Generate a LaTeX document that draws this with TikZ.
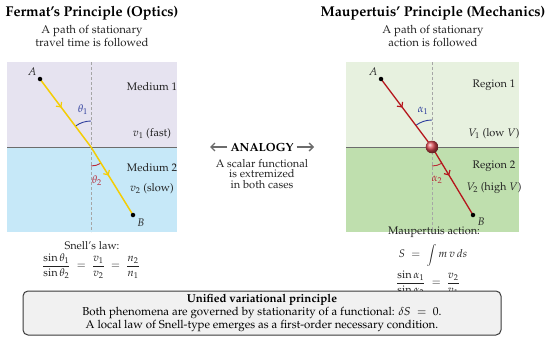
\documentclass[tikz,border=0pt]{standalone}
\usepackage[T1]{fontenc}
\usepackage{mathpazo}
\usetikzlibrary{arrows.meta,decorations.markings}
\definecolor{lavfill}{HTML}{E6E3F0}
\definecolor{bluefill}{HTML}{C6E8F8}
\definecolor{lgreenfill}{HTML}{E7F1DF}
\definecolor{greenfill}{HTML}{BFDFAE}
\definecolor{raygold}{HTML}{F4CD06}
\definecolor{rayred}{HTML}{B5161C}
\definecolor{angblue}{HTML}{2C3C9C}
\definecolor{angred}{HTML}{B82A38}
\definecolor{ballred}{HTML}{D8474E}
\definecolor{boxfill}{HTML}{F1F1F1}
\definecolor{boxline}{HTML}{3A3A3A}
\definecolor{txtgray}{HTML}{222222}
\begin{document}
\begin{tikzpicture}[x=1pt,y=-1pt,
  txt/.style={inner sep=0pt,text=txtgray,font=\fontsize{11}{13}\selectfont},
  titletxt/.style={inner sep=0pt,text=black,font=\fontsize{14.2}{16}\selectfont\bfseries},
  sub/.style={txt,align=center,font=\fontsize{11.4}{13}\selectfont},
  dot/.style={circle,fill=black,inner sep=0pt,minimum size=4.5pt},
  interface/.style={draw=gray!85!black,line width=0.9pt},
  normalline/.style={draw=gray!70,line width=0.6pt,dash pattern=on 3pt off 2pt},
  raygoldstyle/.style={draw=raygold,line width=1.5pt},
  rayredstyle/.style={draw=rayred,line width=1.3pt},
  midarrow/.style={postaction={decorate},decoration={markings,
      mark=at position 0.42 with {\arrow{Straight Barb[length=3.5pt,width=7pt,line width=1.2pt]}}}},
  arcblue/.style={draw=angblue,line width=0.9pt},
  arcred/.style={draw=angred,line width=0.9pt},
  grayarrow/.style={draw=gray!85!black,line width=1.3pt,-{Straight Barb[length=4pt,width=8pt,line width=1.3pt]}},
  summarybox/.style={draw=boxline,line width=1pt,fill=boxfill,rounded corners=5pt}
]
\useasboundingbox (0,0) rectangle (550,340);

% ---------------- Titles ----------------
\node[titletxt] (t1) at (92,13) {Fermat's Principle (Optics)};
\node[sub] (s1) at (92,35.5) {A path of stationary\\travel time is followed};
\node[titletxt] (t2) at (433,13) {Maupertuis' Principle (Mechanics)};
\node[sub] (s2) at (433,35.5) {A path of stationary\\action is followed};

% ---------------- Left panel ----------------
\fill[lavfill] (7,62) rectangle (177,147);
\fill[bluefill] (7,147) rectangle (177,232);
\draw[normalline] (91,62) -- (91,232);
\draw[interface] (7,147) -- (177,147);

\coordinate (I1) at (91,147);
\coordinate (A1) at (40,79);
\coordinate (B1) at (133,215);
\draw[arcblue] ([shift={(-90:26)}]I1) arc[start angle=-90,end angle=-127,radius=26];
\draw[arcred] ([shift={(90:19)}]I1) arc[start angle=90,end angle=58.5,radius=19];
\draw[raygoldstyle,midarrow] (A1) -- (I1);
\draw[raygoldstyle,midarrow] (I1) -- (B1);
\node[dot] (A1dot) at (A1) {};
\node[dot] (B1dot) at (B1) {};
\node[txt] (A1lab) at (32,72) {$A$};
\node[txt] (B1lab) at (141,223) {$B$};
\node[txt,text=angblue] (th1) at (83,110) {$\theta_1$};
\node[txt,text=angred] (th2) at (97,181) {$\theta_2$};
\node[txt] (m1) at (152,87) {Medium 1};
\node[txt] (v1) at (152,134) {$v_1$ (fast)};
\node[txt] (m2) at (152,168) {Medium 2};
\node[txt] (v2) at (152,189) {$v_2$ (slow)};

% ---------------- Right panel ----------------
\fill[lgreenfill] (346,62) rectangle (519,147);
\fill[greenfill] (346,147) rectangle (519,232);
\draw[normalline] (432,62) -- (432,232);
\draw[interface] (346,147) -- (519,147);

\coordinate (I2) at (432,147);
\coordinate (A2) at (381,79);
\coordinate (B2) at (473,215);
\draw[arcblue] ([shift={(-90:27)}]I2) arc[start angle=-90,end angle=-127,radius=27];
\draw[arcred] ([shift={(90:19)}]I2) arc[start angle=90,end angle=59,radius=19];
\draw[rayredstyle,midarrow] (A2) -- (I2);
\draw[rayredstyle,midarrow] (I2) -- (B2);
\shade[ball color=ballred] (I2) circle[radius=6.3];
\node[dot] (A2dot) at (A2) {};
\node[dot] (B2dot) at (B2) {};
\node[txt] (A2lab) at (373,72) {$A$};
\node[txt] (B2lab) at (481,222) {$B$};
\node[txt,text=angblue] (al1) at (423,111) {$\alpha_1$};
\node[txt,text=angred] (al2) at (437,180) {$\alpha_2$};
\node[txt] (r1) at (494,85) {Region 1};
\node[txt] (V1) at (494,134) {$V_1$ (low $V$)};
\node[txt] (r2) at (494,166) {Region 2};
\node[txt] (V2) at (494,188) {$V_2$ (high $V$)};

% ---------------- Middle ----------------
\node[txt,text=black,font=\fontsize{11.8}{13}\selectfont\bfseries,inner sep=3pt] (analogy) at (262,147) {ANALOGY};
\coordinate (analogyL) at (210,147);
\coordinate (analogyR) at (314,147);
\draw[grayarrow] (analogy.west) -- (analogyL);
\draw[grayarrow] (analogy.east) -- (analogyR);
\node[txt,align=center,font=\fontsize{11.1}{10.6}\selectfont] (analogytext) at (262,174) {A scalar functional\\is extremized\\in both cases};

% ---------------- Formulas ----------------
\node[txt] (snell) at (92,246) {Snell's law:};
\node[txt] (snelleq) at (91,266) {$\displaystyle\frac{\sin\theta_1}{\sin\theta_2}\;=\;\frac{v_1}{v_2}\;=\;\frac{n_2}{n_1}$};
\node[txt] (maup) at (434,232) {Maupertuis action:};
\node[txt] (action) at (433,255) {$\displaystyle S\;=\;\int m\,v\,ds$};
\node[txt] (maupeq) at (428,283) {$\displaystyle\frac{\sin\alpha_1}{\sin\alpha_2}\;=\;\frac{v_2}{v_1}$};

% ---------------- Summary box ----------------
\path[summarybox] (23,291) rectangle (501,335);
\node[txt,text=black,align=center,font=\fontsize{11.5}{13}\selectfont] (summary) at (262,313)
  {\textbf{Unified variational principle}\\
   Both phenomena are governed by stationarity of a functional: $\delta S\;=\;0$.\\
   A local law of Snell-type emerges as a first-order necessary condition.};
\end{tikzpicture}
\end{document}
